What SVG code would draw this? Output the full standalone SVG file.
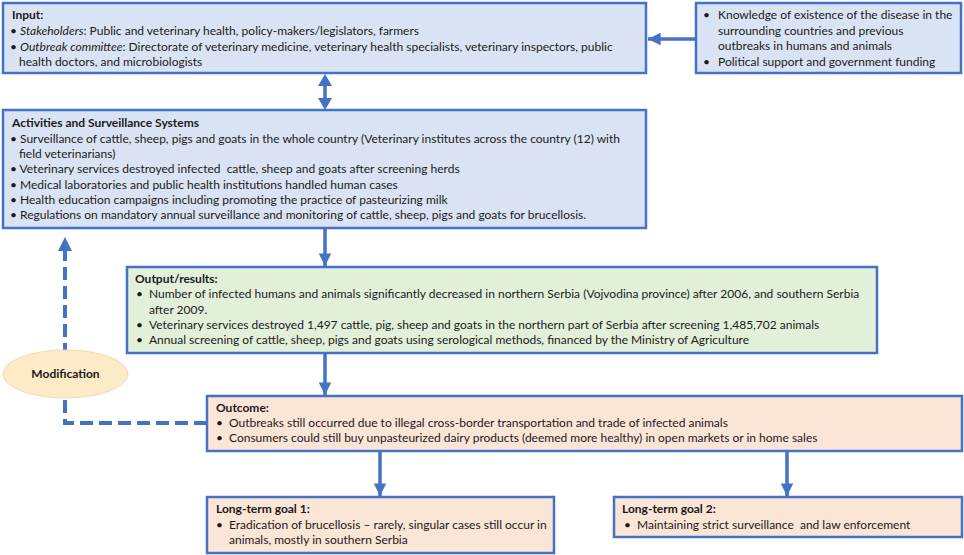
<svg xmlns="http://www.w3.org/2000/svg" width="964" height="555" viewBox="0 0 964 555">
<style>
.box{stroke:#4472C4;stroke-width:2.5}
.blue{fill:#DAE3F3}
.green{fill:#E2F0D9}
.peach{fill:#FBE5D6}
text{font-family:Lato,"Liberation Sans",sans-serif;font-size:12px;fill:#1a1a1a}
.h{font-weight:bold}
.i{font-style:italic}
.ln{stroke:#4472C4;stroke-width:3.5;fill:none}
.dash{stroke:#4472C4;stroke-width:4;fill:none;stroke-dasharray:13 6}
.ah{fill:#4472C4}
</style>
<defs>
<marker id="arr" viewBox="0 0 10 10" refX="10" refY="5" markerWidth="3.6" markerHeight="3.6" orient="auto" markerUnits="strokeWidth">
<path d="M0,0 L10,5 L0,10 z" fill="#4472C4"/>
</marker>
</defs>
<g id="connectors">
<line class="ln" x1="696" y1="39" x2="648" y2="39" marker-end="url(#arr)"/>
<line class="ln" x1="325" y1="80" x2="325" y2="103"/>
<path class="ah" d="M325,74 L318,86 L332,86 z"/>
<path class="ah" d="M325,110 L318,98 L332,98 z"/>
<line class="ln" x1="325" y1="228" x2="325" y2="266" marker-end="url(#arr)"/>
<line class="ln" x1="325" y1="353" x2="325" y2="395" marker-end="url(#arr)"/>
<line class="ln" x1="380" y1="451" x2="380" y2="496" marker-end="url(#arr)"/>
<line class="ln" x1="787" y1="451" x2="787" y2="496" marker-end="url(#arr)"/>
<path class="dash" d="M207,423 L65,423 L65,250"/>
<path class="ah" d="M65,237 L58,251 L72,251 z"/>
</g>
<g id="input">
<rect class="box blue" x="3" y="3" width="643" height="70"/>
<text x="12" y="19" class="h">Input:</text>
<text x="10" y="35">• <tspan class="i">Stakeholders</tspan>: Public and veterinary health, policy-makers/legislators, farmers</text>
<text x="10" y="51">• <tspan class="i">Outbreak committee</tspan>: Directorate of veterinary medicine, veterinary health specialists, veterinary inspectors, public</text>
<text x="19" y="66">health doctors, and microbiologists</text>
</g>
<g id="context">
<rect class="box blue" x="696" y="3" width="265" height="70"/>
<text x="703" y="19">•</text><text x="718" y="19">Knowledge of existence of the disease in the</text>
<text x="718" y="35">surrounding countries and previous</text>
<text x="718" y="50">outbreaks in humans and animals</text>
<text x="703" y="66">•</text><text x="718" y="66">Political support and government funding</text>
</g>
<g id="activities">
<rect class="box blue" x="3" y="110" width="643" height="118"/>
<text x="12" y="127" class="h">Activities and Surveillance Systems</text>
<text x="10" y="143">• Surveillance of cattle, sheep, pigs and goats in the whole country (Veterinary institutes across the country (12) with</text>
<text x="19" y="158">field veterinarians)</text>
<text x="10" y="173" xml:space="preserve">• Veterinary services destroyed infected  cattle, sheep and goats after screening herds</text>
<text x="10" y="189">• Medical laboratories and public health institutions handled human cases</text>
<text x="10" y="204">• Health education campaigns including promoting the practice of pasteurizing milk</text>
<text x="10" y="219">• Regulations on mandatory annual surveillance and monitoring of cattle, sheep, pigs and goats for brucellosis.</text>
</g>
<g id="output">
<rect class="box green" x="127" y="267" width="750" height="86"/>
<text x="135" y="283" class="h">Output/results:</text>
<text x="136" y="298">•</text><text x="149" y="298">Number of infected humans and animals significantly decreased in northern Serbia (Vojvodina province) after 2006, and southern Serbia</text>
<text x="149" y="314">after 2009.</text>
<text x="136" y="329">•</text><text x="149" y="329">Veterinary services destroyed 1,497 cattle, pig, sheep and goats in the northern part of Serbia after screening 1,485,702 animals</text>
<text x="136" y="344">•</text><text x="149" y="344">Annual screening of cattle, sheep, pigs and goats using serological methods, financed by the Ministry of Agriculture</text>
</g>
<g id="modification">
<ellipse cx="65.5" cy="374" rx="62.5" ry="24" fill="#FDEBC8" stroke="#F8D8B0" stroke-width="1"/>
<text x="65.5" y="378" class="h" text-anchor="middle">Modification</text>
</g>
<g id="outcome">
<rect class="box peach" x="207" y="396" width="755" height="55"/>
<text x="216" y="412" class="h">Outcome:</text>
<text x="216" y="427">•</text><text x="229" y="427">Outbreaks still occurred due to illegal cross-border transportation and trade of infected animals</text>
<text x="216" y="442">•</text><text x="229" y="442">Consumers could still buy unpasteurized dairy products (deemed more healthy) in open markets or in home sales</text>
</g>
<g id="goal1">
<rect class="box peach" x="207" y="497" width="347" height="56"/>
<text x="216" y="513" class="h">Long-term goal 1:</text>
<text x="216" y="529">•</text><text x="229" y="529">Eradication of brucellosis – rarely, singular cases still occur in</text>
<text x="229" y="544">animals, mostly in southern Serbia</text>
</g>
<g id="goal2">
<rect class="box peach" x="614" y="497" width="348" height="40"/>
<text x="622" y="513" class="h">Long-term goal 2:</text>
<text x="624" y="529">•</text><text x="637" y="529" xml:space="preserve">Maintaining strict surveillance  and law enforcement</text>
</g>
</svg>
